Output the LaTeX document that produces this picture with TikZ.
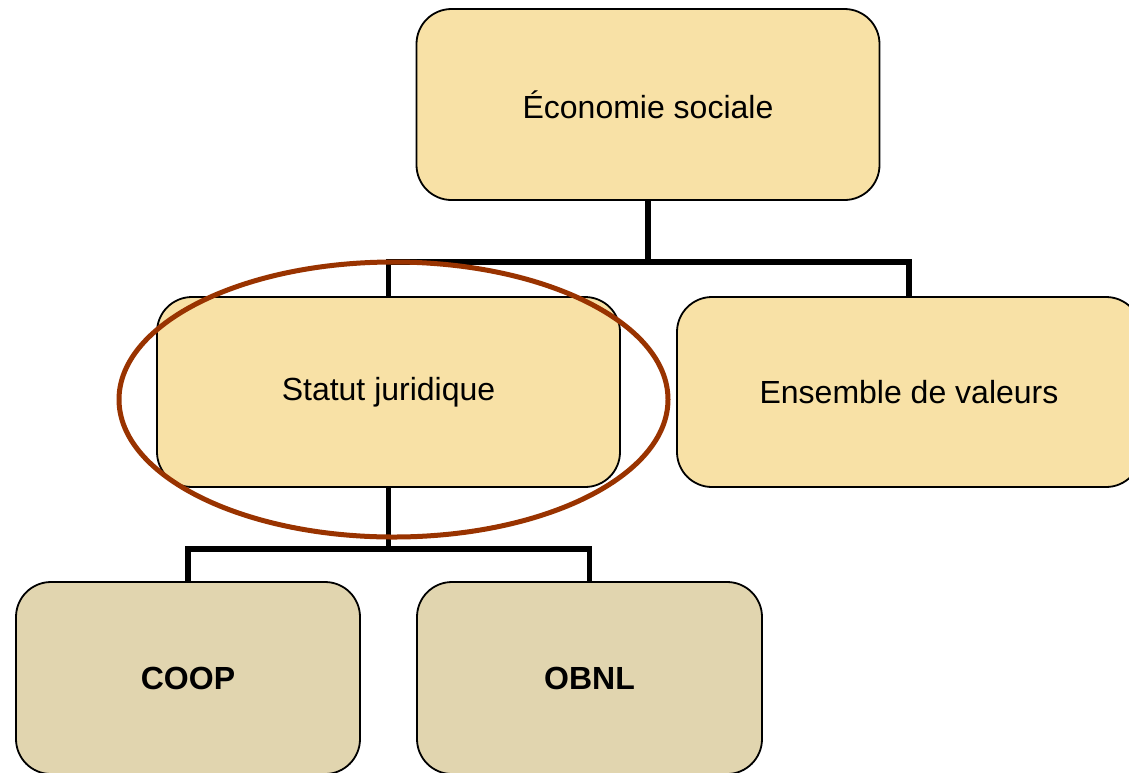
\documentclass[tikz,border=0pt]{standalone}
\usepackage{fontspec}
\setmainfont{Liberation Sans}
\definecolor{boxA}{HTML}{F8E1A6}
\definecolor{boxB}{HTML}{E1D5AF}
\definecolor{ring}{HTML}{993300}
\begin{document}
\begin{tikzpicture}[x=1pt,y=-1pt,
  box/.style={draw=black, line width=1.8pt, rounded corners=35pt, inner sep=0pt,
    font=\fontsize{32}{38}\selectfont, text=black},
  upper/.style={box, fill=boxA},
  lower/.style={box, fill=boxB, font=\fontsize{32}{38}\selectfont\bfseries},
  conn/.style={draw=black, line width=5.5pt}]
\useasboundingbox (0,0) rectangle (1129,772);
\clip (0,0) rectangle (1129,772);
\node[upper, minimum width=463pt, minimum height=191pt] (top) at (648,104.5) {Économie sociale};
\node[upper, minimum width=463pt, minimum height=190pt] (stat) at (388.5,392) {Statut juridique};
\node[upper, minimum width=464pt, minimum height=190pt] (ens) at (909,392) {Ensemble de valeurs};
\node[lower, minimum width=344pt, minimum height=192pt] (coop) at (188,678) {COOP};
\node[lower, minimum width=345pt, minimum height=192pt] (obnl) at (589.5,678) {OBNL};
\coordinate (j1) at (648,262);
\coordinate (j2) at (388.5,549);
\draw[conn] (top.south) -- (j1);
\draw[conn] (stat.north) |- (j1) -| (ens.north);
\draw[conn] (stat.south) -- (j2);
\draw[conn] (coop.north) |- (j2) -| (obnl.north);
\draw[draw=ring, line width=5pt] (393.5,399.5) ellipse [x radius=274.5, y radius=137.5];
\end{tikzpicture}
\end{document}
